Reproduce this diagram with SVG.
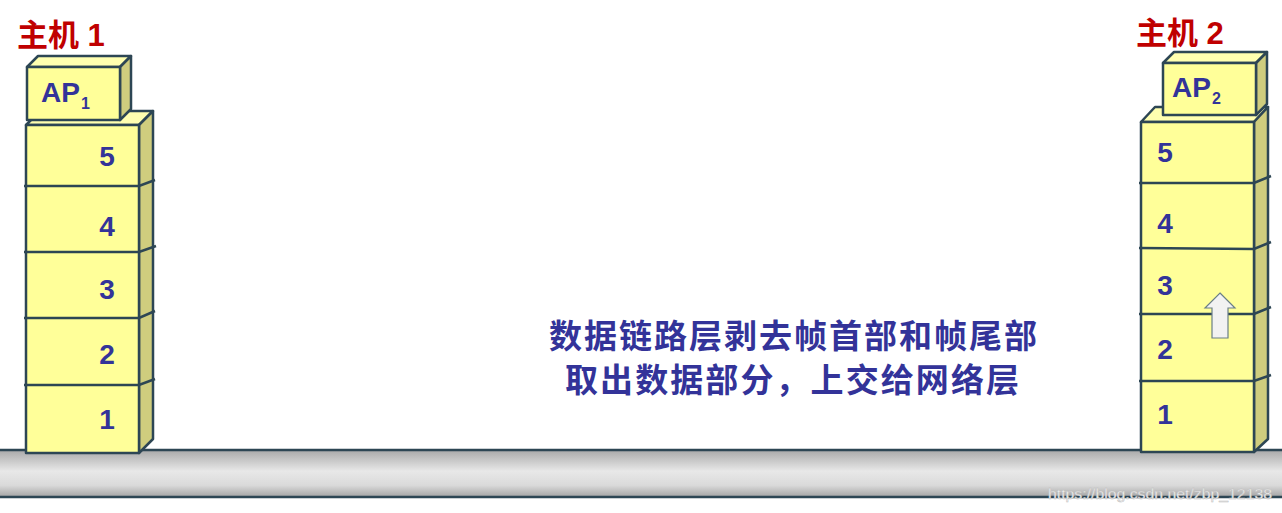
<svg xmlns="http://www.w3.org/2000/svg" width="1282" height="513" viewBox="0 0 1282 513">
<defs>
<linearGradient id="bar" x1="0" y1="0" x2="0" y2="1">
<stop offset="0" stop-color="#a9a9a9"/>
<stop offset="0.45" stop-color="#e8e8e8"/>
<stop offset="0.75" stop-color="#dadada"/>
<stop offset="1" stop-color="#a4a4a4"/>
</linearGradient>
<style>
.fr{fill:#ffff99;stroke:#2d4654;stroke-width:2.5;stroke-linejoin:round}
.tp{fill:#ffffb0;stroke:#2d4654;stroke-width:2.5;stroke-linejoin:round}
.sd{fill:#cfcd7e;stroke:#2d4654;stroke-width:2.5;stroke-linejoin:round}
.ln{fill:none;stroke:#2d4654;stroke-width:2.5}
.num{font-family:"Liberation Sans",Arial,sans-serif;font-weight:bold;font-size:28px;fill:#333399;text-anchor:middle}
.ap{font-family:"Liberation Sans",Arial,sans-serif;font-weight:bold;font-size:28px;fill:#333399}
.sub{font-size:16px}
.title{font-family:"Liberation Sans","Noto Sans CJK SC",sans-serif;font-weight:bold;font-size:31px;fill:#c00000}
.cn{font-family:"Noto Sans CJK SC",sans-serif;font-weight:bold;font-size:33px;fill:#333399;text-anchor:middle}
</style>
</defs>
<rect x="0" y="0" width="1282" height="513" fill="#ffffff"/>
<g id="network">
<rect x="-2" y="450" width="1286" height="47" fill="url(#bar)"/>
<line x1="0" y1="450" x2="1282" y2="450" stroke="#2d4654" stroke-width="2.5"/>
<line x1="0" y1="497" x2="1282" y2="497" stroke="#2d4654" stroke-width="2.5"/>
</g>
<g id="host1">
<text class="title" x="17" y="46">主机 1</text>
<polygon class="tp" points="26,125 139,125 153,111 40,111"/>
<polygon class="sd" points="139,125 153,111 153,439 139,453"/>
<rect class="fr" x="26" y="125" width="113" height="328"/>
<path class="ln" d="M24,186 H139 L155,180 M24,252 H139 L156,246 M24,318 H139 L155,311 M24,385 H139 L155,379"/>
<text class="num" x="107" y="166">5</text>
<text class="num" x="107" y="236">4</text>
<text class="num" x="107" y="299">3</text>
<text class="num" x="107" y="364">2</text>
<text class="num" x="107" y="429">1</text>
<g id="ap1">
<polygon class="tp" points="27,67 120,67 131,56 38,56"/>
<polygon class="sd" points="120,67 131,56 131,109 120,120"/>
<rect class="fr" x="27" y="67" width="93" height="53"/>
<text class="ap" x="41" y="102">AP<tspan class="sub" dx="1" dy="7">1</tspan></text>
</g>
</g>
<g id="host2">
<text class="title" x="1136" y="44">主机 2</text>
<polygon class="tp" points="1141,122 1254,122 1268,107 1155,107"/>
<polygon class="sd" points="1254,122 1268,107 1268,439 1254,452"/>
<rect class="fr" x="1141" y="122" width="113" height="330"/>
<path class="ln" d="M1139,183 H1254 L1271,176 M1139,248 L1254,249 L1271,242 M1139,314 H1254 L1271,307 M1139,381 H1254 L1271,375"/>
<text class="num" x="1165" y="162">5</text>
<text class="num" x="1165" y="233">4</text>
<text class="num" x="1165" y="295">3</text>
<text class="num" x="1165" y="359">2</text>
<text class="num" x="1165" y="424">1</text>
<g id="ap2">
<polygon class="tp" points="1163,63 1256,63 1267,52 1174,52"/>
<polygon class="sd" points="1256,63 1267,52 1267,104 1256,115"/>
<rect class="fr" x="1163" y="63" width="93" height="52"/>
<text class="ap" x="1172" y="97">AP<tspan class="sub" dx="1" dy="7">2</tspan></text>
</g>
</g>
<g id="connectors">
<polygon points="1220,293 1235,308 1228,308 1228,338 1212,338 1212,308 1205,308" fill="#f2f2f2" stroke="#6a7f86" stroke-width="1.2" stroke-linejoin="miter"/>
</g>
<g id="label">
<text class="cn" x="793" y="348" textLength="488" lengthAdjust="spacing">数据链路层剥去帧首部和帧尾部</text>
<text class="cn" x="792" y="392" textLength="454" lengthAdjust="spacing">取出数据部分，上交给网络层</text>
</g>
<text x="1048" y="499" font-family="Liberation Sans,Arial,sans-serif" font-size="15" fill="#f8f8f8" stroke="#bdbdbd" stroke-width="0.5" textLength="224" lengthAdjust="spacingAndGlyphs">https://blog.csdn.net/zbp_12138</text>
</svg>
